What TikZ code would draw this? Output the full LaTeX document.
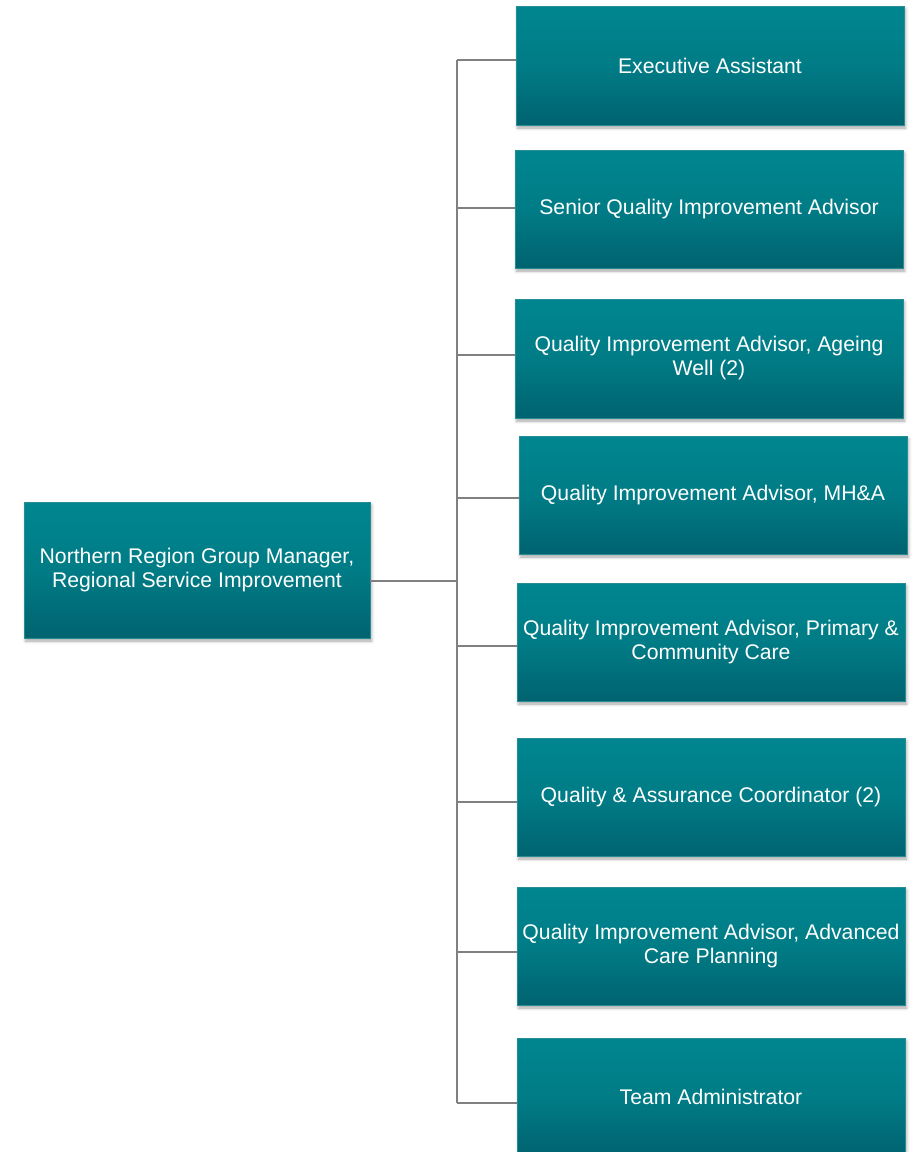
\documentclass[tikz,border=0pt]{standalone}
\usepackage{fontspec}
\setmainfont{Liberation Sans}
\usetikzlibrary{calc,shadows.blur}
\definecolor{tealtop}{RGB}{0,134,144}
\definecolor{tealmid}{RGB}{0,124,134}
\definecolor{tealbot}{RGB}{0,99,112}
\definecolor{tealedge}{RGB}{40,140,148}
\definecolor{linkgray}{RGB}{128,128,128}
\tikzset{
  role/.style={rectangle, draw=tealedge, line width=0.8pt,
    top color=tealtop, bottom color=tealbot, middle color=tealmid,
    text=white, align=center, inner sep=2pt,
    font=\fontsize{21.2}{24}\selectfont,
    minimum width=388pt, minimum height=118pt,
    blur shadow={shadow xshift=1.5pt, shadow yshift=-3pt,
      shadow blur radius=3pt, shadow opacity=35}},
  lead/.style={role, minimum width=346pt, minimum height=136pt},
  conn/.style={draw=linkgray, line width=2.4pt}
}
\begin{document}
\begin{tikzpicture}[x=1pt, y=-1pt]
\useasboundingbox (0,0) rectangle (923,1152);

% manager
\node[lead] (m) at (197,570) {Northern Region Group Manager,\\Regional Service Improvement};

% direct reports
\node[role, minimum height=119pt] (c1) at (710,65.5) {Executive Assistant};
\node[role] (c2) at (709,209) {Senior Quality Improvement Advisor};
\node[role, minimum height=119pt] (c3) at (709,358.5) {Quality Improvement Advisor, Ageing\\Well (2)};
\node[role] (c4) at (713,495) {Quality Improvement Advisor, MH\&A};
\node[role] (c5) at (711,642) {Quality Improvement Advisor, Primary \&\\Community Care};
\node[role] (c6) at (711,797) {Quality \& Assurance Coordinator (2)};
\node[role] (c7) at (711,946) {Quality Improvement Advisor, Advanced\\Care Planning};
\node[role] (c8) at (711,1097) {Team Administrator};

% spine of the tree
\coordinate (s) at (457,0);
\coordinate (e0) at ($(m.east)+(0,11)$);
\coordinate (e1) at ($(c1.west)+(0,-5.5)$);
\coordinate (e2) at ($(c2.west)+(0,-1)$);
\coordinate (e3) at ($(c3.west)+(0,-3.5)$);
\coordinate (e4) at ($(c4.west)+(0,3)$);
\coordinate (e5) at ($(c5.west)+(0,4)$);
\coordinate (e6) at ($(c6.west)+(0,5)$);
\coordinate (e7) at ($(c7.west)+(0,6)$);
\coordinate (e8) at ($(c8.west)+(0,6)$);

\draw[conn] (e1 -| s) -- (e8 -| s);
\draw[conn] (e0) -- (e0 -| s);
\foreach \i in {1,...,8} {
  \draw[conn] (e\i -| s) -- (e\i);
}
\end{tikzpicture}
\end{document}
